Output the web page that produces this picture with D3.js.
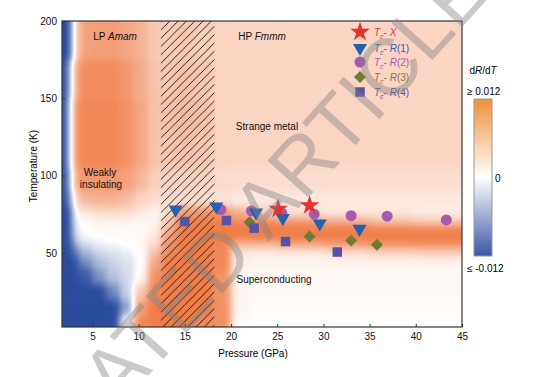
<!DOCTYPE html>
<html>
<head>
<meta charset="utf-8">
<script src="https://cdn.jsdelivr.net/npm/d3@7"></script>
<style>
  body { margin: 0; background: #fff; }
  text { font-family: Arial, "Liberation Sans", Helvetica, sans-serif; }
</style>
</head>
<body>
<div id="chart"></div>
<script>
// dR/dT map (units of 0.001), cells between these edges
var pressureEdges = [-3, 2.2, 2.8, 3.5, 5, 6.5, 8, 9.5, 11, 12.5, 14, 16, 18, 20, 22, 25, 30, 35, 40, 50];
var tempEdges = [-15, 10, 20, 30, 40, 47, 53, 58, 63, 68, 73, 80, 90, 105, 125, 150, 175, 220];
// rows from low T to high T
var dRdT = [
  [-12,-12,-12,-12,-12,-12, 0, 11, 12, 12, 12, 11, 10, 0.5, 0, -0.3, -0.3, 0, 0],
  [-12,-12,-12,-12,-12,-12,-6, 9, 12, 12, 12, 12, 10, 1, 0.3, 0.3, 0.3, 0.3, 0.3],
  [-12,-12,-12,-12,-12,-8,-3, 5, 11, 12, 12, 12, 10, 1, 0.5, 0.5, 0.5, 0.5, 0.5],
  [-12,-12,-12,-11,-7,-4,-2.5, 0.5, 10, 12, 12, 12, 10, 1, 0.6, 0.6, 0.6, 0.6, 0.6],
  [-12,-12,-12,-8,-4.5,-3,-2, 0, 8, 12, 12, 12, 11, 1.5, 1, 1, 1, 1, 1],
  [-12,-12,-10,-5,-3,-2,-1, 0, 6, 11, 12, 12, 11, 2, 1.5, 1.5, 2.5, 3.5, 4],
  [-12,-12,-6,-2.5,-1,-0.5, 0, 0.5, 3.5, 10, 12, 12, 11, 6, 6, 8, 9, 10, 10.5],
  [-12,-12,-3,-0.5, 0, 0.5, 0.5, 0.5, 2, 9, 12, 12, 12, 12, 12, 12, 12, 12, 12],
  [-12,-12,-2, 0, 0.5, 0.5, 0.5, 0.5, 1.5, 7, 12, 12, 12, 12, 12, 12, 12, 11.5, 11.5],
  [-12,-12,-1, 0.5, 1, 1, 1, 0.5, 1, 5, 12, 12, 12, 11, 11, 10, 8, 6, 5],
  [-12,-12, 0, 2, 3, 3.5, 3, 2, 1, 3, 9, 10, 10, 7, 4, 2.5, 2, 2, 1.5],
  [-12,-9, 3, 6.5, 7, 7, 6, 4, 3, 3, 3, 3, 2.5, 2, 2, 2, 2, 2, 2],
  [-12,-7, 7, 9.5, 9.5, 9.5, 8.5, 6.5, 4.5, 4, 4, 4, 3.2, 3, 3, 3, 3, 3, 3],
  [-12,-5, 9, 11, 11, 11, 10, 8, 5.5, 5, 5.5, 5, 4, 3.8, 3.8, 3.8, 3.8, 3.8, 3.8],
  [-12,-5, 9, 11, 11, 11, 10, 8, 5.5, 5.5, 6, 5.5, 4, 3.8, 3.8, 3.8, 3.8, 3.8, 3.8],
  [-12,-7, 7, 10.5, 10.5, 10.5, 9.5, 7.5, 5.5, 5, 5.5, 5, 4, 3.8, 3.8, 3.8, 3.8, 3.8, 3.8],
  [-12,-12, 3, 8.5, 9, 9, 8, 7, 5, 4.5, 5, 4.5, 4, 3.8, 3.8, 3.8, 3.8, 3.8, 3.8]
];

// Tc points (pressure GPa, temperature K)
var tcX  = [[25.1, 78.4], [28.5, 80.6]];
var tcR1 = [[14.0, 78], [18.4, 80], [22.7, 76], [25.6, 72.5], [29.6, 69], [33.9, 65.5]];
var tcR2 = [[18.9, 78], [22.2, 77], [25.5, 75.7], [29.0, 75], [33.0, 74], [36.9, 73.7], [43.3, 71.3]];
var tcR3 = [[22.0, 69.8], [28.5, 60.5], [33.0, 58], [35.8, 55.2]];
var tcR4 = [[15.0, 70.2], [19.5, 70.9], [22.5, 66], [25.9, 57.3], [31.5, 50.5]];

var mixedPhase = [12.4, 18.2];
var xTicks = [5, 10, 15, 20, 25, 30, 35, 40, 45];
var yTicks = [50, 100, 150, 200];

var svg = d3.select("#chart").append("svg")
    .attr("width", 540)
    .attr("height", 377);

var x = d3.scaleLinear().domain([1.7, 45]).range([62, 462]);
var y = d3.scaleLinear().domain([2, 200]).range([327, 21]);

// value -> grey level; the filter below smooths the grey field and turns it into colour
var level = d3.scaleLinear().domain([-12, 12]).range([0, 255]).clamp(true);
var lowColor = d3.rgb("#2a4c9e"), highColor = d3.rgb("#f07d48");

var defs = svg.append("defs");
defs.append("clipPath").attr("id", "plotclip")
  .append("rect")
    .attr("x", x(1.7)).attr("y", y(200))
    .attr("width", x(45) - x(1.7)).attr("height", y(2) - y(200));

var filt = defs.append("filter").attr("id", "soft")
    .attr("filterUnits", "userSpaceOnUse")
    .attr("color-interpolation-filters", "sRGB")
    .attr("x", 0).attr("y", -20).attr("width", 540).attr("height", 420);
filt.append("feGaussianBlur").attr("stdDeviation", "3.5 4");
var ct = filt.append("feComponentTransfer");
ct.append("feFuncR").attr("type", "table").attr("tableValues", [lowColor.r / 255, 1, highColor.r / 255].join(" "));
ct.append("feFuncG").attr("type", "table").attr("tableValues", [lowColor.g / 255, 1, highColor.g / 255].join(" "));
ct.append("feFuncB").attr("type", "table").attr("tableValues", [lowColor.b / 255, 1, highColor.b / 255].join(" "));

// hatch pattern
var hatch = defs.append("pattern").attr("id", "hatch")
    .attr("patternUnits", "userSpaceOnUse")
    .attr("width", 8.3).attr("height", 8.3);
hatch.append("path")
    .attr("d", "M0,8.3 L8.3,0 M-2,2 L2,-2 M6.3,10.3 L10.3,6.3")
    .attr("stroke", "#111").attr("stroke-width", 0.9);

// heat map
var cells = [];
dRdT.forEach(function(row, i) {
  row.forEach(function(v, j) {
    cells.push({i: i, j: j, v: v});
  });
});

var plot = svg.append("g").attr("clip-path", "url(#plotclip)");
plot.append("g").attr("filter", "url(#soft)")
  .selectAll("rect")
  .data(cells)
  .enter().append("rect")
    .attr("x", function(d) { return x(pressureEdges[d.j]); })
    .attr("y", function(d) { return y(tempEdges[d.i + 1]); })
    .attr("width", function(d) { return x(pressureEdges[d.j + 1]) - x(pressureEdges[d.j]) + 0.5; })
    .attr("height", function(d) { return y(tempEdges[d.i]) - y(tempEdges[d.i + 1]) + 0.5; })
    .style("fill", function(d) { var g = Math.round(level(d.v)); return d3.rgb(g, g, g); });

// mixed phase hatched area
plot.append("rect")
    .attr("x", x(mixedPhase[0]))
    .attr("y", y(200))
    .attr("width", x(mixedPhase[1]) - x(mixedPhase[0]))
    .attr("height", y(2) - y(200))
    .style("fill", "url(#hatch)");

// axes
var xAxis = svg.append("g")
    .attr("transform", "translate(0," + y(2) + ")")
    .call(d3.axisBottom(x).tickValues(xTicks).tickSizeInner(-3).tickSizeOuter(0).tickPadding(6));
var yAxis = svg.append("g")
    .attr("transform", "translate(" + x(1.7) + ",0)")
    .call(d3.axisLeft(y).tickValues(yTicks).tickSizeInner(-3).tickSizeOuter(0).tickPadding(5));
[xAxis, yAxis].forEach(function(a) {
  a.select(".domain").remove();
  a.selectAll("line").attr("stroke", "#333");
  a.selectAll("text").style("font-size", "10px").attr("fill", "#111");
});

// frame
svg.append("rect")
    .attr("x", x(1.7)).attr("y", y(200))
    .attr("width", x(45) - x(1.7)).attr("height", y(2) - y(200))
    .attr("fill", "none").attr("stroke", "#333").attr("stroke-width", 1.2);

svg.append("text")
    .attr("x", 253).attr("y", 357)
    .attr("text-anchor", "middle")
    .style("font-size", "10px")
    .text("Pressure (GPa)");
svg.append("text")
    .attr("transform", "translate(37,166) rotate(-90)")
    .attr("text-anchor", "middle")
    .style("font-size", "10px")
    .text("Temperature (K)");

// region labels
function label(tx, ty, parts) {
  var t = svg.append("text").attr("x", tx).attr("y", ty)
      .attr("text-anchor", "middle").style("font-size", "10px").attr("fill", "#111");
  parts.forEach(function(p) {
    t.append("tspan").style("font-style", p[1] ? "italic" : "normal").text(p[0]);
  });
}
label(115, 40, [["LP "], ["Amam", true]]);
label(262, 40, [["HP "], ["Fmmm", true]]);
label(267, 130, [["Strange metal"]]);
label(100, 176, [["Weakly"]]);
label(101, 188, [["insulating"]]);
label(274, 283, [["Superconducting"]]);

// markers
var series = [
  {data: tcR2, symbol: d3.symbolCircle, size: 95, rot: 0, color: "#a65bb0"},
  {data: tcR3, symbol: d3.symbolSquare, size: 72, rot: 45, color: "#6e7a35"},
  {data: tcR4, symbol: d3.symbolSquare, size: 90, rot: 0, color: "#5652a6"},
  {data: tcR1, symbol: d3.symbolTriangle, size: 85, rot: 180, color: "#2462b0"},
  {data: tcX, symbol: d3.symbolStar, size: 120, rot: 0, color: "#e8302f"}
];

series.forEach(function(s) {
  svg.append("g").selectAll("path")
    .data(s.data)
    .enter().append("path")
      .attr("d", d3.symbol().type(s.symbol).size(s.size))
      .attr("transform", function(d) {
        return "translate(" + x(d[0]) + "," + y(d[1]) + ") rotate(" + s.rot + ")";
      })
      .attr("fill", s.color);
});

// legend
var legendRows = [
  {symbol: d3.symbolStar, size: 120, rot: 0, color: "#e8302f", text: "#e8302f", name: "X"},
  {symbol: d3.symbolTriangle, size: 85, rot: 180, color: "#2462b0", text: "#2a62b0", name: "1"},
  {symbol: d3.symbolCircle, size: 95, rot: 0, color: "#a65bb0", text: "#a65bb0", name: "2"},
  {symbol: d3.symbolSquare, size: 72, rot: 45, color: "#6e7a35", text: "#857a3a", name: "3"},
  {symbol: d3.symbolSquare, size: 90, rot: 0, color: "#5652a6", text: "#5652a6", name: "4"}
];
var legendY = [32, 48, 62, 77, 92];

var legend = svg.selectAll(".legend")
    .data(legendRows)
    .enter().append("g")
    .attr("class", "legend")
    .attr("transform", function(d, i) { return "translate(360," + legendY[i] + ")"; });

legend.append("path")
    .attr("d", function(d) { return d3.symbol().type(d.symbol).size(d.size)(); })
    .attr("transform", function(d) { return "rotate(" + d.rot + ")"; })
    .attr("fill", function(d) { return d.color; });

legend.each(function(d) {
  var t = d3.select(this).append("text")
      .attr("x", 14).attr("y", 4)
      .style("font-size", "10px")
      .attr("fill", d.text);
  t.append("tspan").style("font-style", "italic").text("T");
  t.append("tspan").style("font-style", "italic").style("font-size", "7px").attr("dy", 3).text("c");
  t.append("tspan").attr("dy", -3).text("- ");
  if (d.name === "X") {
    t.append("tspan").style("font-style", "italic").text("X");
  } else {
    t.append("tspan").style("font-style", "italic").text("R");
    t.append("tspan").text("(" + d.name + ")");
  }
});

// colour bar
var grad = defs.append("linearGradient").attr("id", "cbar")
    .attr("x1", 0).attr("y1", 0).attr("x2", 0).attr("y2", 1);
grad.append("stop").attr("offset", "0%").attr("stop-color", "#f09038");
grad.append("stop").attr("offset", "50%").attr("stop-color", "#ffffff");
grad.append("stop").attr("offset", "100%").attr("stop-color", "#3d56a4");

svg.append("rect")
    .attr("x", 474).attr("y", 99).attr("width", 18).attr("height", 157)
    .attr("fill", "url(#cbar)").attr("stroke", "#999").attr("stroke-width", 1);

var cb = svg.append("text").attr("x", 483).attr("y", 74)
    .attr("text-anchor", "middle").style("font-size", "10px");
cb.append("tspan").text("d");
cb.append("tspan").style("font-style", "italic").text("R");
cb.append("tspan").text("/d");
cb.append("tspan").style("font-style", "italic").text("T");

svg.append("text").attr("x", 467).attr("y", 95).style("font-size", "10px").text("\u2265 0.012");
svg.append("text").attr("x", 495).attr("y", 182).style("font-size", "10px").text("0");
svg.append("text").attr("x", 467).attr("y", 272).style("font-size", "10px").text("\u2264 -0.012");

// watermark
svg.append("text")
    .attr("transform", "translate(310,196) rotate(-48)")
    .attr("text-anchor", "middle")
    .style("font-size", "80px")
    .attr("fill", "#808080")
    .attr("fill-opacity", 0.42)
    .text("ACCELERATED ARTICLE PREVIEW");
</script>
</body>
</html>
